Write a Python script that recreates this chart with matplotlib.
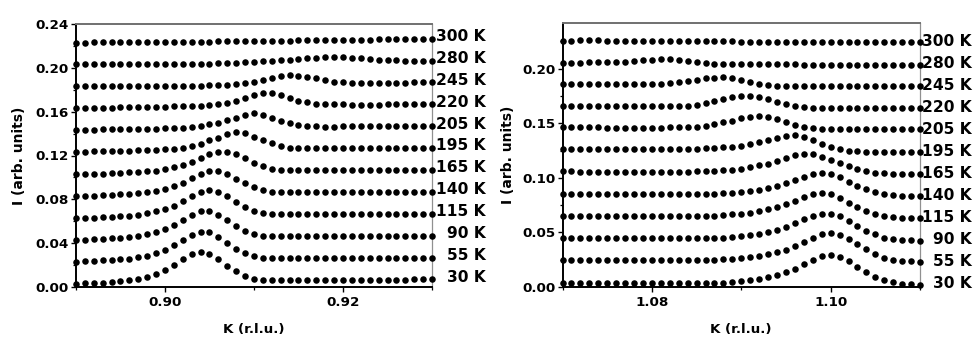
import numpy as np
import matplotlib
matplotlib.use("Agg")
import matplotlib.pyplot as plt
from matplotlib.ticker import MultipleLocator, FormatStrFormatter
from matplotlib.transforms import blended_transform_factory

# --- datos (I en unidades de 1e-3, sin el desplazamiento vertical) ---
temps = ["30 K", "55 K", "90 K", "115 K", "140 K", "165 K",
         "195 K", "205 K", "220 K", "245 K", "280 K", "300 K"]
step = 0.02  # desplazamiento entre curvas

k_left = np.linspace(0.89, 0.93, 41)
k_right = np.linspace(1.07, 1.11, 41)

l30 = [2.7, 3.2, 3.6, 4.0, 4.5, 5.1, 6.3, 7.6, 9.4, 11.6, 15.2, 20.1, 25.2, 30.1, 32.0, 30.1, 25.6, 19.2, 14.6, 9.7,
       7.6, 6.5, 6.3, 6.3, 6.3, 6.4, 6.4, 6.4, 6.5, 6.5, 6.5, 6.6, 6.6, 6.6, 6.7, 6.7, 6.8, 6.8, 6.9, 6.9, 7.0]
l55 = [3.0, 3.6, 4.1, 4.5, 4.9, 5.3, 5.9, 7.0, 8.6, 10.6, 13.6, 18.0, 23.0, 27.8, 30.6, 29.9, 25.5, 20.0, 14.8, 10.6,
       7.9, 6.7, 6.4, 6.4, 6.4, 6.4, 6.5, 6.5, 6.5, 6.5, 6.6, 6.6, 6.6, 6.6, 6.7, 6.7, 6.7, 6.8, 6.8, 6.8, 6.9]
l90 = [3.0, 3.2, 3.6, 4.1, 4.5, 4.9, 5.4, 6.5, 8.0, 10.1, 12.6, 16.5, 21.1, 25.7, 28.9, 28.9, 26.0, 20.7, 15.8, 11.5,
       8.5, 6.9, 6.4, 6.4, 6.4, 6.4, 6.5, 6.5, 6.5, 6.5, 6.6, 6.6, 6.6, 6.6, 6.7, 6.7, 6.7, 6.8, 6.8, 6.8, 6.9]
l115 = [3.0, 3.0, 3.4, 3.9, 4.3, 4.7, 5.1, 5.6, 7.1, 9.0, 10.8, 14.1, 18.3, 22.7, 26.9, 28.4, 26.9, 22.9, 17.4, 13.4,
        9.3, 7.5, 6.5, 6.4, 6.4, 6.4, 6.5, 6.5, 6.5, 6.5, 6.6, 6.6, 6.6, 6.6, 6.7, 6.7, 6.7, 6.8, 6.8, 6.8, 6.9]
l140 = [3.0, 3.0, 3.2, 3.6, 4.1, 4.5, 4.9, 5.4, 6.4, 7.8, 9.6, 11.8, 15.2, 19.2, 23.2, 26.0, 26.0, 23.4, 18.8, 14.6,
        10.8, 8.2, 6.8, 6.4, 6.4, 6.4, 6.5, 6.5, 6.5, 6.5, 6.6, 6.6, 6.6, 6.6, 6.7, 6.7, 6.7, 6.8, 6.8, 6.8, 6.9]
l165 = [3.0, 3.0, 3.0, 3.2, 3.6, 4.1, 4.5, 4.9, 5.4, 6.3, 7.6, 9.2, 11.1, 14.1, 17.6, 21.1, 23.6, 23.6, 21.3, 17.3,
        13.6, 10.3, 8.0, 6.8, 6.4, 6.4, 6.5, 6.5, 6.5, 6.5, 6.6, 6.6, 6.6, 6.6, 6.7, 6.7, 6.7, 6.8, 6.8, 6.8, 6.9]
l195 = [3.3, 3.5, 3.7, 3.9, 4.1, 4.3, 4.5, 4.7, 4.9, 5.2, 5.5, 6.1, 7.0, 8.5, 10.7, 13.7, 16.4, 19.5, 21.0, 20.1,
        17.0, 14.0, 11.3, 8.5, 7.3, 6.7, 6.4, 6.4, 6.5, 6.5, 6.5, 6.6, 6.6, 6.6, 6.7, 6.7, 6.7, 6.8, 6.8, 6.8, 6.9]
l205 = [3.3, 3.5, 3.7, 3.9, 4.0, 4.2, 4.3, 4.5, 4.6, 4.6, 4.9, 5.2, 5.5, 6.1, 7.0, 8.5, 10.1, 12.2, 14.6, 17.3,
        18.6, 16.7, 14.6, 11.6, 9.4, 7.9, 7.0, 6.7, 6.4, 6.4, 6.5, 6.5, 6.5, 6.6, 6.6, 6.6, 6.7, 6.7, 6.8, 6.8, 6.9]
l220 = [3.4, 3.5, 3.6, 3.7, 3.8, 3.9, 4.0, 4.2, 4.3, 4.3, 4.6, 4.9, 4.9, 4.9, 5.5, 6.1, 7.0, 8.2, 10.1, 12.5,
        15.2, 17.1, 17.1, 14.9, 12.5, 10.1, 8.5, 7.3, 7.0, 6.7, 6.7, 6.4, 6.5, 6.5, 6.5, 6.6, 6.6, 6.7, 6.7, 6.8, 6.8]
l245 = [3.1, 3.1, 3.2, 3.2, 3.3, 3.3, 3.4, 3.4, 3.4, 3.4, 3.4, 3.4, 3.4, 3.4, 3.7, 4.0, 4.3, 4.6, 5.2, 5.8,
        7.3, 8.8, 11.0, 12.5, 13.4, 12.8, 11.6, 10.4, 8.5, 7.3, 6.7, 6.4, 6.4, 6.5, 6.5, 6.5, 6.6, 6.6, 6.7, 6.7, 6.8]
l280 = [3.4, 3.4, 3.4, 3.4, 3.5, 3.5, 3.5, 3.5, 3.6, 3.6, 3.6, 3.6, 3.7, 3.7, 3.7, 3.7, 4.0, 4.3, 4.6, 4.9,
        5.2, 5.8, 6.4, 7.0, 7.6, 8.4, 9.0, 9.4, 9.7, 9.7, 9.7, 9.4, 8.8, 8.2, 7.6, 7.0, 6.7, 6.5, 6.5, 6.5, 6.5]
l300 = [3.1, 3.1, 3.2, 3.2, 3.3, 3.3, 3.4, 3.4, 3.4, 3.5, 3.5, 3.6, 3.7, 3.8, 3.9, 4.0, 4.1, 4.2, 4.3, 4.4,
        4.5, 4.6, 4.7, 4.8, 4.9, 5.0, 5.1, 5.2, 5.3, 5.4, 5.5, 5.6, 5.7, 5.8, 5.9, 6.0, 6.1, 6.2, 6.3, 6.5, 6.6]

r30 = [3.8, 3.8, 3.8, 3.7, 3.7, 3.7, 3.7, 3.6, 3.6, 3.6, 3.6, 3.5, 3.5, 3.5, 3.5, 3.5, 3.4, 3.5, 4.0, 4.6,
       5.2, 6.1, 7.3, 8.9, 11.0, 13.4, 16.8, 20.8, 24.7, 28.0, 29.0, 27.8, 24.0, 18.6, 13.8, 9.3, 6.0, 4.2, 3.2, 2.4, 1.9]
r55 = [4.9, 4.9, 4.8, 4.8, 4.8, 4.8, 4.7, 4.7, 4.7, 4.7, 4.7, 4.6, 4.6, 4.6, 4.6, 4.6, 4.6, 4.8, 5.2, 5.7,
       6.4, 7.2, 8.4, 9.8, 11.8, 14.3, 17.4, 21.4, 25.0, 28.2, 29.2, 28.0, 24.3, 19.2, 14.5, 10.3, 6.9, 4.8, 3.8, 3.5, 3.2]
r90 = [4.8, 4.8, 4.8, 4.7, 4.7, 4.7, 4.7, 4.7, 4.6, 4.6, 4.6, 4.6, 4.6, 4.6, 4.6, 4.6, 4.6, 4.8, 5.3, 5.9,
       6.5, 7.5, 8.7, 10.3, 12.4, 14.9, 18.3, 22.0, 25.2, 27.3, 27.0, 24.8, 20.6, 16.1, 11.7, 8.1, 5.3, 3.7, 3.1, 2.6, 2.4]
r115 = [5.2, 5.2, 5.1, 5.1, 5.1, 5.1, 5.0, 5.0, 5.0, 5.0, 5.0, 5.0, 5.0, 5.0, 5.0, 5.0, 5.0, 5.4, 5.8, 6.5,
        7.1, 8.1, 9.4, 11.0, 13.1, 15.8, 19.1, 22.3, 25.0, 25.8, 24.8, 21.6, 17.3, 13.3, 9.8, 6.7, 4.8, 3.7, 3.3, 2.9, 2.9]
r140 = [5.4, 5.4, 5.3, 5.3, 5.3, 5.3, 5.2, 5.2, 5.2, 5.2, 5.2, 5.2, 5.2, 5.2, 5.2, 5.2, 5.2, 5.6, 6.0, 6.5,
        7.1, 8.0, 9.2, 10.7, 12.6, 15.0, 18.1, 20.9, 23.3, 24.1, 23.2, 20.3, 16.4, 12.8, 9.5, 6.7, 5.0, 4.1, 3.7, 3.3, 3.3]
r165 = [5.8, 5.8, 5.7, 5.7, 5.7, 5.7, 5.6, 5.6, 5.6, 5.6, 5.6, 5.6, 5.6, 5.6, 5.6, 5.8, 6.1, 6.5, 6.9, 7.4,
        8.4, 9.8, 11.3, 12.9, 15.2, 17.8, 20.5, 21.8, 21.6, 19.5, 16.6, 13.5, 10.5, 7.9, 5.9, 4.7, 4.1, 3.7, 3.5, 3.5, 3.5]
r195 = [6.3, 6.3, 6.3, 6.3, 6.2, 6.2, 6.2, 6.2, 6.2, 6.2, 6.2, 6.2, 6.2, 6.3, 6.5, 6.7, 7.0, 7.4, 7.9, 8.6,
        9.6, 11.0, 12.5, 14.3, 16.3, 18.4, 19.3, 17.5, 14.5, 11.0, 8.0, 6.0, 5.0, 4.4, 4.1, 4.0, 4.0, 3.9, 3.9, 3.9, 3.9]
r205 = [6.2, 6.2, 6.1, 6.1, 6.1, 6.0, 6.0, 6.0, 6.0, 6.0, 6.0, 6.0, 6.1, 6.2, 6.4, 6.8, 7.7, 9.3, 10.8, 12.3,
        14.4, 16.0, 16.6, 16.0, 13.6, 10.8, 8.4, 6.5, 5.3, 4.7, 4.5, 4.5, 4.5, 4.5, 4.4, 4.4, 4.4, 4.4, 4.4, 4.4, 4.4]
r220 = [6.0, 6.0, 6.0, 5.9, 5.9, 5.9, 5.9, 5.8, 5.8, 5.8, 5.8, 5.8, 5.8, 5.9, 6.1, 6.7, 8.2, 10.3, 12.1, 14.3,
        15.2, 15.2, 14.3, 12.1, 9.7, 7.2, 5.7, 4.8, 4.3, 4.1, 4.0, 4.0, 4.0, 4.0, 4.0, 4.0, 4.0, 4.0, 4.0, 4.0, 4.0]
r245 = [6.0, 6.0, 5.9, 5.9, 5.8, 5.6, 5.6, 5.6, 5.6, 5.6, 5.9, 6.2, 6.8, 7.4, 8.6, 9.5, 11.1, 11.7, 12.0, 11.1,
        9.5, 7.4, 5.6, 5.0, 4.4, 4.2, 4.1, 4.1, 4.1, 4.1, 4.1, 4.0, 4.0, 4.0, 4.0, 4.0, 4.0, 4.0, 4.0, 4.0, 4.0]
r280 = [5.6, 5.6, 5.6, 5.7, 5.7, 5.8, 6.1, 6.4, 7.0, 7.6, 7.9, 8.5, 8.5, 7.9, 7.0, 5.8, 4.9, 4.3, 4.0, 4.0,
        3.9, 3.9, 3.9, 3.8, 3.8, 3.8, 3.8, 3.7, 3.7, 3.7, 3.7, 3.6, 3.6, 3.6, 3.6, 3.6, 3.6, 3.6, 3.6, 3.6, 3.6]
r300 = [5.4, 5.6, 6.0, 6.2, 6.0, 5.7, 5.5, 5.4, 5.3, 5.3, 5.2, 5.2, 5.1, 5.1, 5.0, 5.0, 5.0, 4.9, 4.9, 4.9,
        4.8, 4.8, 4.8, 4.7, 4.7, 4.7, 4.6, 4.6, 4.6, 4.5, 4.5, 4.5, 4.4, 4.4, 4.4, 4.3, 4.3, 4.3, 4.2, 4.2, 4.1]

left_curves = [l30, l55, l90, l115, l140, l165, l195, l205, l220, l245, l280, l300]
right_curves = [r30, r55, r90, r115, r140, r165, r195, r205, r220, r245, r280, r300]

plt.rcParams['font.family'] = 'DejaVu Sans'
plt.rcParams['font.weight'] = 'bold'

fig = plt.figure(figsize=(9.74, 3.39), dpi=100)
ax1 = fig.add_axes([76 / 974, 52 / 339, 356 / 974, 263 / 339])
ax2 = fig.add_axes([562.5 / 974, 52 / 339, 357.5 / 974, 264 / 339])


def panel(ax, k, curves, ylim, ymaj, ymin, xmaj, lab_x, lab_y0, lab_dy, ylab_x):
    for n, prof in enumerate(curves):
        ax.plot(k, np.array(prof) * 1e-3 + n * step, 'o', color='black',
                ms=4.7, mew=0, clip_on=False, zorder=3)
    ax.set_xlim(k[0], k[-1])
    ax.set_ylim(*ylim)
    ax.xaxis.set_major_locator(MultipleLocator(xmaj))
    ax.xaxis.set_minor_locator(MultipleLocator(xmaj / 2))
    ax.yaxis.set_major_locator(MultipleLocator(ymaj))
    ax.yaxis.set_minor_locator(MultipleLocator(ymin))
    ax.xaxis.set_major_formatter(FormatStrFormatter('%.2f'))
    ax.yaxis.set_major_formatter(FormatStrFormatter('%.2f'))
    for s in ['left', 'bottom']:
        ax.spines[s].set_color('black')
        ax.spines[s].set_linewidth(1.4)
    ax.spines['top'].set_color('#707070')
    ax.spines['top'].set_linewidth(1.4)
    ax.spines['right'].set_color('#909090')
    ax.spines['right'].set_linewidth(0.9)
    ax.tick_params(which='major', direction='out', length=3.5, width=1.0,
                   labelsize=9.7, pad=1.5, top=False, right=False)
    ax.tick_params(which='minor', direction='out', length=2.0, width=0.9,
                   top=False, right=False)
    ax.tick_params(axis='x', which='major', pad=3)
    for lab in ax.get_xticklabels() + ax.get_yticklabels():
        lab.set_fontweight('bold')
    ax.set_xlabel('K (r.l.u.)', fontsize=9.6, fontweight='bold')
    ax.set_ylabel('I (arb. units)', fontsize=10, fontweight='bold')
    ax.xaxis.set_label_coords(0.5, -0.135)
    ax.yaxis.set_label_coords(ylab_x, 0.5)
    tr = blended_transform_factory(fig.transFigure, ax.transData)
    for n, t in enumerate(temps):
        ax.text(lab_x, lab_y0 + n * lab_dy, t, transform=tr, ha='right',
                va='center', fontsize=11.2, fontweight='bold')


panel(ax1, k_left, left_curves, (0, 0.24), 0.04, 0.02, 0.02,
      486 / 974, 0.0087, 0.02, -0.14)
panel(ax2, k_right, right_curves, (0, 0.2418), 0.05, 0.025, 0.02,
      972 / 974, 0.003, 0.0202, -0.133)

fig.savefig('out.png', dpi=100)
